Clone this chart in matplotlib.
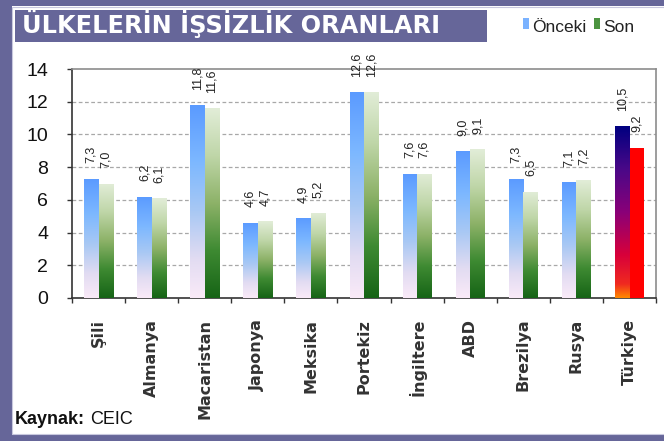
"""
Unemployment rates by country - grouped bar chart with gradient fills.
"""

import numpy as np
import matplotlib
matplotlib.use('Agg')
import matplotlib.pyplot as plt
from matplotlib.patches import Rectangle
from matplotlib.colors import LinearSegmentedColormap

plt.rcParams['font.family'] = ['Liberation Sans', 'DejaVu Sans']

# Data
categories = ['Şili', 'Almanya', 'Macaristan', 'Japonya', 'Meksika', 'Portekiz',
              'İngiltere', 'ABD', 'Brezilya', 'Rusya', 'Türkiye']
onceki = [7.3, 6.2, 11.8, 4.6, 4.9, 12.6, 7.6, 9.0, 7.3, 7.1, 10.5]
son = [7.0, 6.1, 11.6, 4.7, 5.2, 12.6, 7.6, 9.1, 6.5, 7.2, 9.2]
y_ticks = [0, 2, 4, 6, 8, 10, 12, 14]

W, H = 664, 441
FRAME = '#666699'

# Colour ramps (bottom -> top)
blue_cmap = LinearSegmentedColormap.from_list('blue', [
    (0.0, '#FAEAF8'), (0.2, '#E2DCF2'), (0.45, '#A8C8F4'),
    (0.7, '#7DB8FF'), (1.0, '#5A9AFF')])
green_cmap = LinearSegmentedColormap.from_list('green', [
    (0.0, '#166416'), (0.25, '#3E8A32'), (0.5, '#8DB268'),
    (0.75, '#BFD6A8'), (1.0, '#E2EDD8')])
tr_cmap = LinearSegmentedColormap.from_list('tr', [
    (0.0, '#FF8800'), (0.08, '#F02A20'), (0.25, '#D8003A'),
    (0.5, '#8A0078'), (0.75, '#4A0888'), (1.0, '#000080')])


def px(x, y):
    """pixel (from top-left) -> figure fraction"""
    return x / W, 1 - y / H


def fill_gradient(ax, bar, cmap):
    x, y = bar.get_x(), bar.get_y()
    w, h = bar.get_width(), bar.get_height()
    grad = np.linspace(1, 0, 256).reshape(-1, 1)
    im = ax.imshow(grad, cmap=cmap, vmin=0, vmax=1, aspect='auto',
                   extent=[x, x + w, y, y + h], origin='upper',
                   zorder=bar.get_zorder(), interpolation='bilinear')
    im.set_clip_path(bar)
    bar.set_facecolor('none')


fig = plt.figure(figsize=(W / 100, H / 100), dpi=100)
fig.patch.set_facecolor('white')

# --- outer frame ---
fig.patches.append(Rectangle(px(0, 441), 12 / W, 1, transform=fig.transFigure,
                             facecolor=FRAME, edgecolor='none'))
fig.patches.append(Rectangle(px(0, 6), 1, 6 / H, transform=fig.transFigure,
                             facecolor=FRAME, edgecolor='none'))
fig.patches.append(Rectangle(px(0, 441), 1, 7 / H, transform=fig.transFigure,
                             facecolor=FRAME, edgecolor='none'))
fig.patches.append(Rectangle(px(12, 434), 1, 427 / H, transform=fig.transFigure,
                             facecolor='none', edgecolor='#C8C8DE', linewidth=0.8))

# --- title box ---
fig.patches.append(Rectangle(px(15, 42), 472 / W, 32 / H, transform=fig.transFigure,
                             facecolor=FRAME, edgecolor='none'))
fig.text(*px(22, 33.5), 'ÜLKELERİN İŞSİZLİK ORANLARI', color='white',
         fontsize=17.3, fontweight='bold', family='DejaVu Sans', va='baseline', ha='left')

# --- legend ---
fig.patches.append(Rectangle(px(523, 29), 6 / W, 11 / H, transform=fig.transFigure,
                             facecolor='#7AB2FF', edgecolor='none'))
fig.text(*px(532, 32), 'Önceki', fontsize=12.5, color='#222222', va='baseline')
fig.patches.append(Rectangle(px(594, 29), 6 / W, 11 / H, transform=fig.transFigure,
                             facecolor='#4C9440', edgecolor='none'))
fig.text(*px(603, 32), 'Son', fontsize=12.5, color='#222222', va='baseline')

# --- source ---
fig.text(*px(15, 424), 'Kaynak:', fontsize=13, fontweight='bold', color='#111111', va='baseline')
fig.text(*px(90, 424), 'CEIC', fontsize=13, color='#111111', va='baseline')

# --- plot area ---
ax = fig.add_axes([72 / W, 1 - 298 / H, 584 / W, 229 / H])
x = np.arange(len(categories))
bw = 0.273

bars1 = ax.bar(x - bw / 2, onceki, bw, zorder=3, edgecolor='none')
bars2 = ax.bar(x + bw / 2, son, bw, zorder=3, edgecolor='none')

for i, (b1, b2) in enumerate(zip(bars1, bars2)):
    if categories[i] == 'Türkiye':
        fill_gradient(ax, b1, tr_cmap)
        b2.set_facecolor('#FF0000')
    else:
        fill_gradient(ax, b1, blue_cmap)
        fill_gradient(ax, b2, green_cmap)

for bars, vals in [(bars1, onceki), (bars2, son)]:
    for b, v in zip(bars, vals):
        ax.annotate(f'{v:.1f}'.replace('.', ','),
                    (b.get_x() + b.get_width() / 2, b.get_height()),
                    xytext=(0, 11), textcoords='offset points',
                    rotation=90, ha='center', va='bottom', fontsize=9,
                    color='#222222', annotation_clip=False, clip_on=False)

ax.set_xlim(-0.5, len(categories) - 0.5)
ax.set_ylim(0, 14)
ax.set_yticks(y_ticks)
ax.set_yticklabels([str(t) for t in y_ticks], fontsize=14, color='#111111')
ax.tick_params(axis='y', direction='out', length=3.6, width=1, color='#333333', pad=13.5)

ax.set_xticks(x)
ax.set_xticklabels(categories, rotation=90, fontsize=11.5, fontweight='bold',
                   family='DejaVu Sans', color='#333333', va='top', ha='center')
ax.set_xticks(np.arange(-0.5, len(categories)), minor=True)
ax.tick_params(axis='x', which='major', length=0, pad=15)
ax.tick_params(axis='x', which='minor', direction='out', length=3.6, width=1, color='#333333')

for gy in y_ticks[1:-1]:
    ax.axhline(gy, color='#A8A8A8', linewidth=0.9, linestyle=(0, (3, 2)), zorder=1)

for side in ['top', 'right']:
    ax.spines[side].set_color('#8C8C8C')
    ax.spines[side].set_linewidth(1.2)
for side in ['left', 'bottom']:
    ax.spines[side].set_color('#333333')
    ax.spines[side].set_linewidth(1.2)

plt.savefig('out.png', dpi=100, facecolor='white')
plt.close()
